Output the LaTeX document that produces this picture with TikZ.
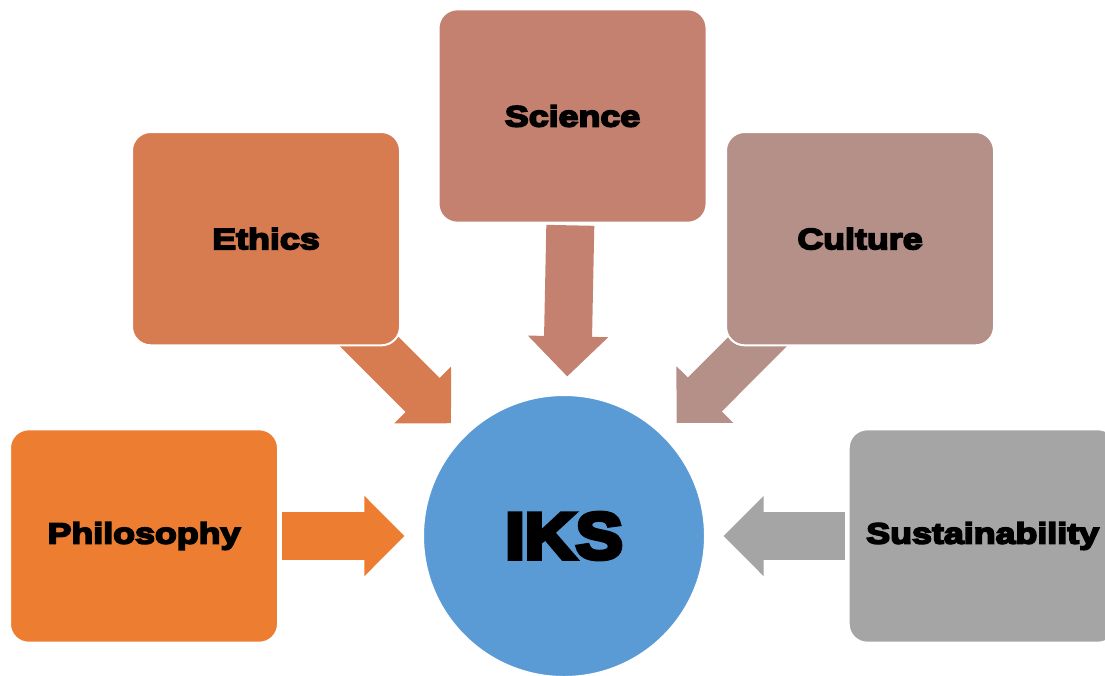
\documentclass[tikz,border=0pt]{standalone}
\usepackage{fontspec}
\newfontfamily\labelfont{Liberation Sans Bold}[FakeBold=6,FakeStretch=1.22]
\newfontfamily\iksfont{Liberation Sans Bold}[FakeBold=7,FakeStretch=1.08]
\usetikzlibrary{arrows.meta,positioning,backgrounds}

\definecolor{philocol}{HTML}{ED7D31}
\definecolor{ethicscol}{HTML}{D77B51}
\definecolor{sciencecol}{HTML}{C48170}
\definecolor{culturecol}{HTML}{B59089}
\definecolor{sustcol}{HTML}{A5A5A5}
\definecolor{ikscol}{HTML}{5B9BD5}

\begin{document}
\begin{tikzpicture}[x=0.75pt,y=-0.75pt,on grid,node distance=315pt]
    \tikzset{
      box/.style={rectangle,rounded corners=14pt,draw=white,line width=1.5pt,
        minimum width=201pt,minimum height=160pt,inner sep=0pt,outer sep=0pt,
        text=black,font=\labelfont\fontsize{22}{26}\selectfont},
      hub/.style={circle,fill=ikscol,draw=white,line width=1.5pt,minimum size=211.5pt,
        inner sep=0pt,outer sep=0pt,text=black,font=\iksfont\fontsize{49}{56}\selectfont},
      feed/.style={line width=36pt,-{Triangle[length=30pt,width=60pt,line width=1.5pt]},
        shorten >=14pt}
    }
    \useasboundingbox (0,0) rectangle (1105,675);
    \node[hub]                    (iks)     at (564,536)                      {IKS};
    \node[box,fill=philocol]      (philo)   [left=315pt of iks]               {Philosophy};
    \node[box,fill=sustcol]       (sust)    [right=314pt of iks]              {Sustainability};
    \node[box,fill=ethicscol]     (ethics)  [above left=223pt and 223.5pt of iks]  {Ethics};
    \node[box,fill=sciencecol]    (science) [above right=315pt and 6.4pt of iks]   {Science};
    \node[box,fill=culturecol]    (culture) [above right=223pt and 222pt of iks]   {Culture};
    % arrows go under the boxes
    \begin{scope}[on background layer]
      \draw[feed,philocol,shorten <=3pt]   (philo) -- (iks);
      \draw[feed,sustcol,shorten <=3pt]    (sust) -- (iks);
      \draw[feed,sciencecol,shorten <=2pt] (science) -- (iks);
      \draw[feed,ethicscol]                (ethics.center) -- (iks);
      \draw[feed,culturecol]               (culture.center) -- (iks);
    \end{scope}
\end{tikzpicture}
\end{document}
